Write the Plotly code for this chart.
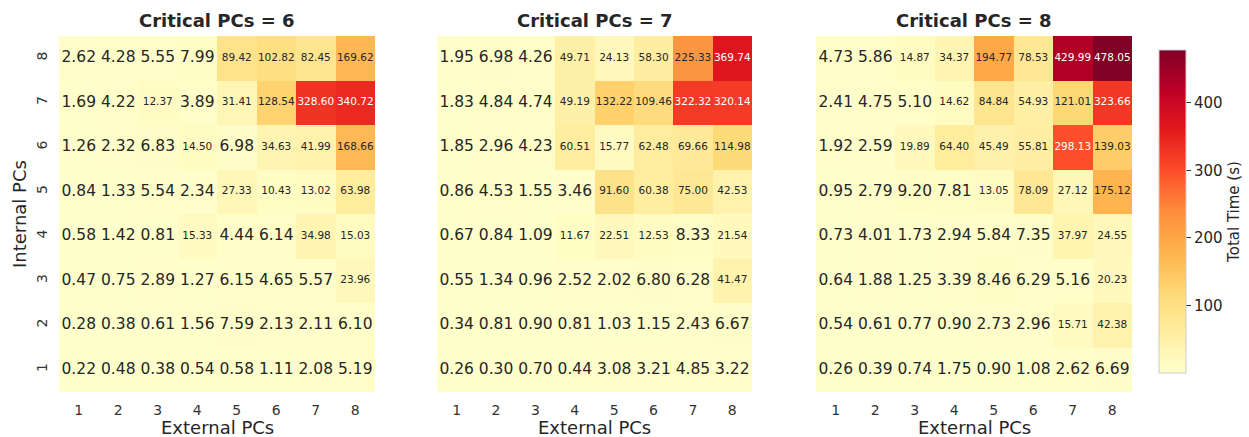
import plotly.graph_objects as go

external = [1, 2, 3, 4, 5, 6, 7, 8]
internal = [1, 2, 3, 4, 5, 6, 7, 8]
critical = [6, 7, 8]

# rows listed from Internal PCs = 8 (top) down to 1 (bottom)
crit6 = [
    [2.62, 4.28, 5.55, 7.99, 89.42, 102.82, 82.45, 169.62],
    [1.69, 4.22, 12.37, 3.89, 31.41, 128.54, 328.60, 340.72],
    [1.26, 2.32, 6.83, 14.50, 6.98, 34.63, 41.99, 168.66],
    [0.84, 1.33, 5.54, 2.34, 27.33, 10.43, 13.02, 63.98],
    [0.58, 1.42, 0.81, 15.33, 4.44, 6.14, 34.98, 15.03],
    [0.47, 0.75, 2.89, 1.27, 6.15, 4.65, 5.57, 23.96],
    [0.28, 0.38, 0.61, 1.56, 7.59, 2.13, 2.11, 6.10],
    [0.22, 0.48, 0.38, 0.54, 0.58, 1.11, 2.08, 5.19],
]
crit7 = [
    [1.95, 6.98, 4.26, 49.71, 24.13, 58.30, 225.33, 369.74],
    [1.83, 4.84, 4.74, 49.19, 132.22, 109.46, 322.32, 320.14],
    [1.85, 2.96, 4.23, 60.51, 15.77, 62.48, 69.66, 114.98],
    [0.86, 4.53, 1.55, 3.46, 91.60, 60.38, 75.00, 42.53],
    [0.67, 0.84, 1.09, 11.67, 22.51, 12.53, 8.33, 21.54],
    [0.55, 1.34, 0.96, 2.52, 2.02, 6.80, 6.28, 41.47],
    [0.34, 0.81, 0.90, 0.81, 1.03, 1.15, 2.43, 6.67],
    [0.26, 0.30, 0.70, 0.44, 3.08, 3.21, 4.85, 3.22],
]
crit8 = [
    [4.73, 5.86, 14.87, 34.37, 194.77, 78.53, 429.99, 478.05],
    [2.41, 4.75, 5.10, 14.62, 84.84, 54.93, 121.01, 323.66],
    [1.92, 2.59, 19.89, 64.40, 45.49, 55.81, 298.13, 139.03],
    [0.95, 2.79, 9.20, 7.81, 13.05, 78.09, 27.12, 175.12],
    [0.73, 4.01, 1.73, 2.94, 5.84, 7.35, 37.97, 24.55],
    [0.64, 1.88, 1.25, 3.39, 8.46, 6.29, 5.16, 20.23],
    [0.54, 0.61, 0.77, 0.90, 2.73, 2.96, 15.71, 42.38],
    [0.26, 0.39, 0.74, 1.75, 0.90, 1.08, 2.62, 6.69],
]
panels = [crit6, crit7, crit8]
cbar_ticks = [100, 200, 300, 400]

ylorrd = ['#ffffcc', '#ffeda0', '#fed976', '#feb24c', '#fd8d3c',
          '#fc4e2a', '#e31a1c', '#bd0026', '#800026']
cscale = [[i / (len(ylorrd) - 1), c] for i, c in enumerate(ylorrd)]

allv = [v for p in panels for row in p for v in row]
zmin, zmax = min(allv), max(allv)

FONT = "DejaVu Sans"
TXT = "#262626"
H = 437
W = 1249
xdoms = [(59 / W, 375 / W), (437 / W, 752 / W), (816 / W, 1132 / W)]
ydom = (1 - 392 / H, 1 - 36 / H)

fig = go.Figure()
for k, (p, crit) in enumerate(zip(panels, critical)):
    z = p[::-1]  # bottom row = internal 1
    xa = "x" if k == 0 else f"x{k + 1}"
    ya = "y" if k == 0 else f"y{k + 1}"
    fig.add_trace(go.Heatmap(
        z=z, x=external, y=internal, xaxis=xa, yaxis=ya,
        colorscale=cscale, zmin=zmin, zmax=zmax,
        showscale=(k == 2), xgap=0, ygap=0, hoverinfo="skip",
        colorbar=dict(
            x=1159 / W, xanchor="left", xpad=0, ypad=0,
            y=1 - 211.5 / H, yanchor="middle",
            lenmode="pixels", len=323, thicknessmode="pixels", thickness=27,
            outlinewidth=1, outlinecolor="#cccccc",
            tickvals=cbar_ticks, ticks="outside", ticklen=5, tickcolor="#333333",
            tickfont=dict(family=FONT, size=15, color=TXT),
            title=dict(text="Total Time (s)", side="right",
                       font=dict(family=FONT, size=15, color=TXT)),
        ),
    ))
    xs, ys, txt, sizes, colors = [], [], [], [], []
    for j, row in enumerate(z):
        for i, v in enumerate(row):
            xs.append(external[i])
            ys.append(internal[j])
            txt.append(f"{v:.2f}")
            sizes.append(15.5 if v < 10 else 10.5)
            colors.append("#ffffff" if v > 280 else TXT)
    fig.add_trace(go.Scatter(
        x=xs, y=ys, text=txt, mode="text", xaxis=xa, yaxis=ya,
        textposition="middle center", hoverinfo="skip", showlegend=False,
        textfont=dict(family=FONT, size=sizes, color=colors),
    ))
    fig.add_annotation(
        text=f"<b>Critical PCs = {crit}</b>", xref="paper", yref="paper",
        x=(xdoms[k][0] + xdoms[k][1]) / 2, y=1 - 21 / H,
        xanchor="center", yanchor="middle", showarrow=False,
        font=dict(family=FONT, size=18, color=TXT),
    )
    fig.add_annotation(
        text="External PCs", xref="paper", yref="paper",
        x=(xdoms[k][0] + xdoms[k][1]) / 2, y=1 - 427 / H,
        xanchor="center", yanchor="middle", showarrow=False,
        font=dict(family=FONT, size=18, color=TXT),
    )

fig.add_annotation(
    text="Internal PCs", xref="paper", yref="paper",
    x=19 / W, y=(ydom[0] + ydom[1]) / 2, textangle=-90,
    xanchor="center", yanchor="middle", showarrow=False,
    font=dict(family=FONT, size=18, color=TXT),
)

layout = dict(
    width=W, height=H, margin=dict(l=0, r=0, t=0, b=0),
    paper_bgcolor="white", plot_bgcolor="white", showlegend=False,
)
for k in range(3):
    sx = "" if k == 0 else str(k + 1)
    layout[f"xaxis{sx}"] = dict(
        domain=list(xdoms[k]), range=[0.5, 8.5], tickvals=external,
        ticks="", showgrid=False, zeroline=False, showline=False,
        ticklabelstandoff=8,
        tickfont=dict(family=FONT, size=14, color="#333333"),
        anchor="y" if k == 0 else f"y{k + 1}", fixedrange=True,
    )
    layout[f"yaxis{sx}"] = dict(
        domain=list(ydom), range=[0.5, 8.5], tickvals=internal,
        showticklabels=(k == 0), tickangle=-90,
        ticks="", showgrid=False, zeroline=False, showline=False,
        ticklabelstandoff=8,
        tickfont=dict(family=FONT, size=14, color="#333333"),
        anchor="x" if k == 0 else f"x{k + 1}", fixedrange=True,
    )
fig.update_layout(**layout)
fig.write_html("out.html")
